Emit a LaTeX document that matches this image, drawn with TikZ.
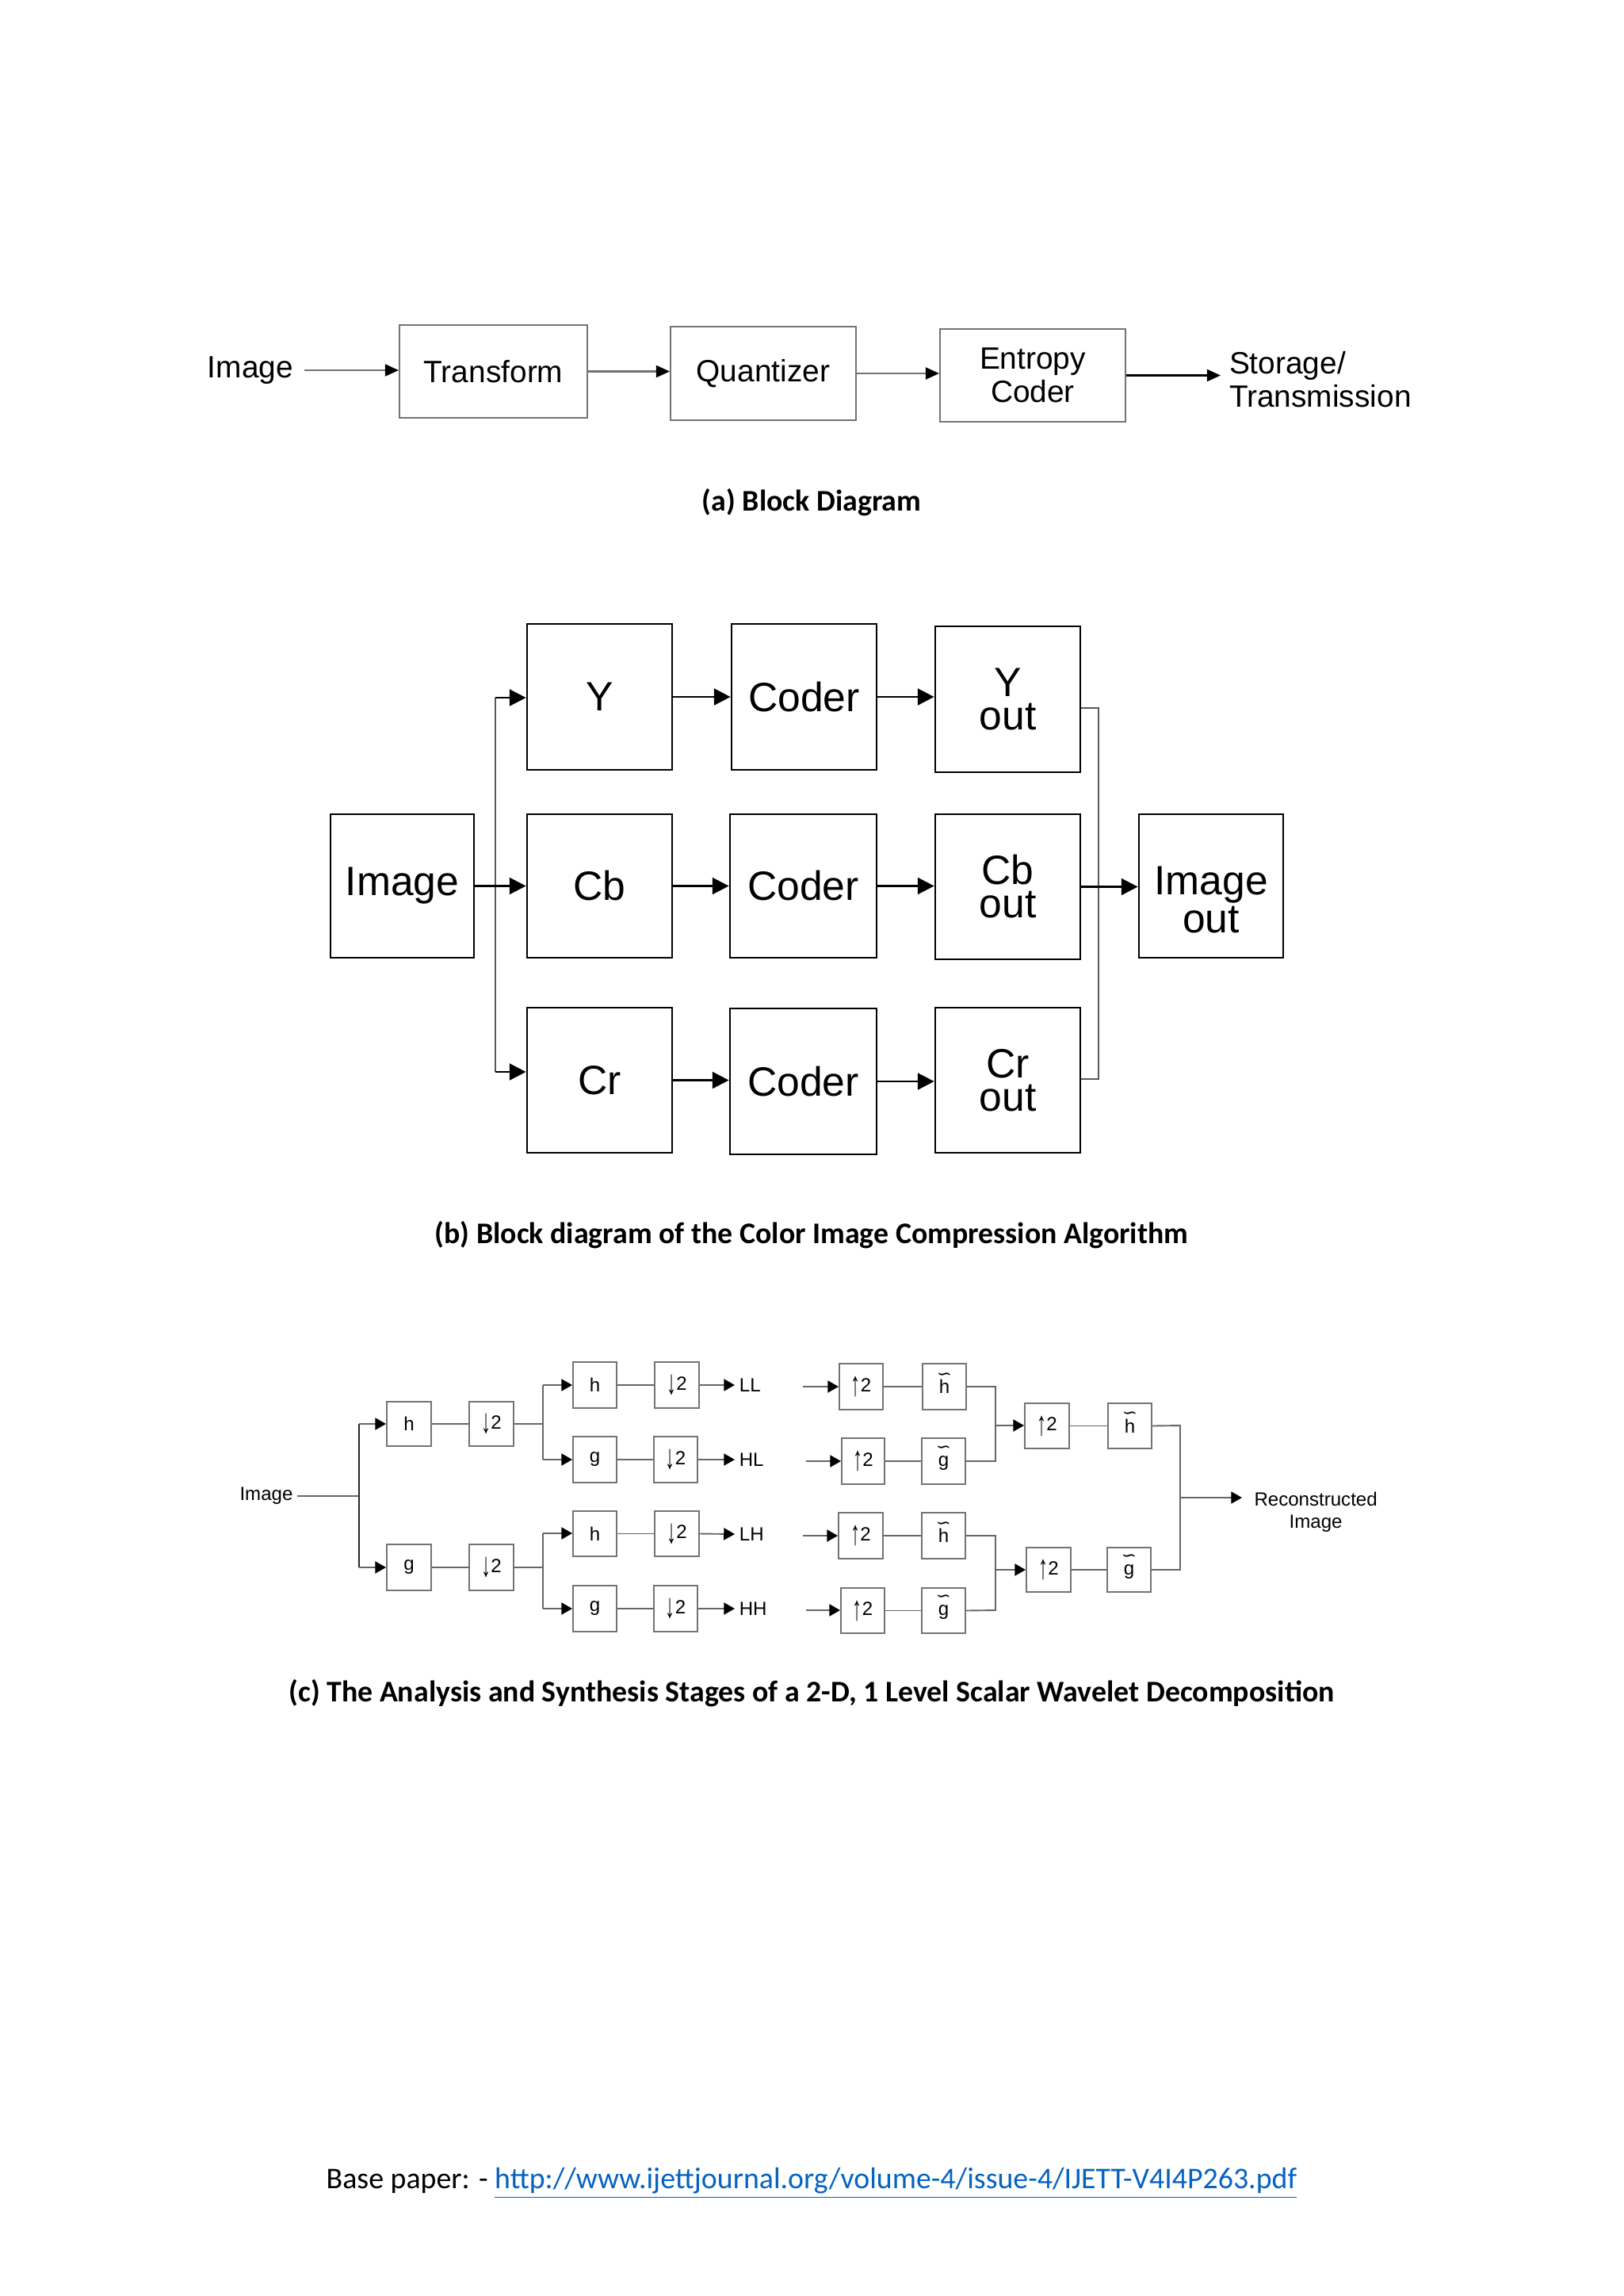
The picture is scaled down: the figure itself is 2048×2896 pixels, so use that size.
\documentclass[tikz,border=0pt]{standalone}
\usepackage{fontspec}
\setmainfont{Liberation Sans}
\newfontfamily\calfont{Carlito}
\newfontfamily\dvsfont{DejaVu Sans}
\usetikzlibrary{arrows.meta}
\definecolor{linkblue}{RGB}{5,99,193}
\newcommand{\wt}[1]{\ooalign{#1\cr\hidewidth\raisebox{0.72em}{\fontsize{6.5}{6.5}\selectfont\dvsfont ∽}\hidewidth\cr}}
\newcommand{\dn}{\raisebox{-0.22em}{\scalebox{1}[1.8]{↓}}}
\newcommand{\up}{\raisebox{-0.22em}{\scalebox{1}[1.8]{↑}}}
% box from corners: [style]{name}{x1}{y1}{x2}{y2}{text}
\newcommand{\bx}[7][]{\node[#1, minimum width={(#5-#3)*0.29067pt}, minimum height={(#6-#4)*0.29067pt}] (#2) at ({(#3+#5)/2},{(#4+#6)/2}) {#7};}
\begin{document}
\begin{tikzpicture}[x=0.29067pt,y={(0,-0.29067pt)},
  % section (a)
  txta/.style={inner sep=4pt, font=\fontsize{11.3}{12.2}\selectfont},
  boxa/.style={draw=black!55, line width=0.6pt, inner sep=0pt, align=center, font=\fontsize{11.3}{12.2}\selectfont},
  arra/.style={draw=black!55, line width=0.6pt, -{Triangle[length=5pt,width=4.4pt,color=black]}},
  % section (b)
  txtb/.style={inner sep=0pt, align=center, font=\fontsize{15}{12.2}\selectfont},
  boxb/.style={draw=black, line width=0.8pt, inner sep=0pt, align=center, font=\fontsize{15}{12.2}\selectfont},
  arrb/.style={draw=black, line width=0.8pt, -{Triangle[length=6pt,width=6pt]}},
  lnb/.style={draw=black!65, line width=0.7pt},
  % section (c)
  txtc/.style={inner sep=1.5pt, font=\fontsize{7}{8.2}\selectfont},
  boxc/.style={draw=black!55, line width=0.55pt, inner sep=0pt, align=center, font=\fontsize{7}{8}\selectfont},
  arrc/.style={draw=black!60, line width=0.55pt, -{Triangle[length=4pt,width=4.4pt,color=black]}},
  lnc/.style={draw=black!60, line width=0.55pt},
  capt/.style={inner sep=0pt, font=\fontsize{11}{13}\selectfont\calfont\bfseries},
]
\useasboundingbox[fill=white] (0,0) rectangle (2048,2896);

% ---------------- (a) ----------------
\node[txta] (imga) at (316,467) {Image};
\bx[boxa]{tr}{504}{410}{741}{527}{Transform}
\bx[boxa]{qu}{846}{412}{1080}{530}{Quantizer}
\bx[boxa]{en}{1186}{415}{1420}{532}{Entropy\\Coder}
\node[txta, anchor=west, align=left, inner sep=3pt] (st) at (1540,479) {Storage/\\Transmission};
\draw[arra] (imga.east) -- (imga.east -| tr.west);
\draw[arra] (tr.east) -- (tr.east -| qu.west);
\draw[arra] (qu.east) -- (qu.east -| en.west);
\draw[arra, draw=black] (en.east) -- (en.east -| st.west);
\node[capt] (capa) at (1024,634) {(a) Block Diagram};

% ---------------- (b) ----------------
\bx[boxb]{img}{417}{1027}{598}{1208}{Image}
\bx[boxb]{Y}{665}{787}{848}{971}{Y}
\bx[boxb]{c1}{923}{787}{1106}{971}{Coder}
\bx[boxb]{yo}{1180}{790}{1363}{974}{Y\\out}
\bx[boxb]{cb}{665}{1027}{848}{1208}{Cb}
\bx[boxb]{c2}{921}{1027}{1106}{1208}{Coder}
\bx[boxb]{cbo}{1180}{1027}{1363}{1210}{Cb\\out}
\bx[boxb]{cr}{665}{1271}{848}{1454}{Cr}
\bx[boxb]{c3}{921}{1272}{1106}{1456}{Coder}
\bx[boxb]{cro}{1180}{1271}{1363}{1454}{Cr\\out}
\bx[boxb]{io}{1437}{1027}{1619}{1208}{}
\node[txtb] (iot) at (1528,1135) {Image\\out};

\coordinate (spT) at (625,880);
\coordinate (spB) at (625,1352);
\draw[lnb] (spT) -- (spB);
\draw[arrb] (img.east) -- (img.east -| cb.west);
\draw[arrb] (spT) -- (spT -| Y.west);
\draw[arrb] (spB) -- (spB -| cr.west);
\draw[arrb] (Y.east) -- (Y.east -| c1.west);
\draw[arrb] (c1.east) -- (c1.east -| yo.west);
\draw[arrb] (cb.east) -- (cb.east -| c2.west);
\draw[arrb] (c2.east) -- (c2.east -| cbo.west);
\draw[arrb] (cr.east) -- (cr.east -| c3.west);
\draw[arrb] (c3.east) -- (c3.east -| cro.west);
\coordinate (mT) at (1386,893);
\coordinate (mB) at (1386,1361);
\draw[lnb] (yo.east |- mT) -- (mT) -- (mB) -- (cro.east |- mB);
\draw[arrb] (cbo.east) -- (cbo.east -| io.west);
\node[capt] (capb) at (1024,1558) {(b) Block diagram of the Color Image Compression Algorithm};

% ---------------- (c) analysis ----------------
\node[txtc] (imgc) at (336,1887) {Image};
\coordinate (s1) at (453,1887);
\coordinate (s1t) at (453,1796);
\coordinate (s1b) at (453,1977);
\bx[boxc]{h1}{488}{1768}{544}{1824}{h}
\bx[boxc]{d1}{592}{1768}{648}{1824}{\dn2}
\bx[boxc]{g1}{488}{1948}{544}{2006}{g}
\bx[boxc]{d2}{592}{1948}{648}{2006}{\dn2}
\draw[lnc] (imgc.east) -- (s1);
\draw[lnc, draw=black!85] (s1t) -- (s1b);
\draw[arrc] (s1t) -- (s1t -| h1.west);
\draw[arrc] (s1b) -- (s1b -| g1.west);
\draw[lnc] (h1.east) -- (d1.west);
\draw[lnc] (g1.east) -- (d2.west);

\bx[boxc]{hLL}{723}{1718}{778}{1776}{h}
\bx[boxc]{dLL}{826}{1718}{882}{1776}{\dn2}
\bx[boxc]{gHL}{723}{1812}{778}{1870}{g}
\bx[boxc]{dHL}{825}{1812}{880}{1870}{\dn2}
\bx[boxc]{hLH}{723}{1906}{778}{1963}{h}
\bx[boxc]{dLH}{826}{1906}{882}{1963}{\dn2}
\bx[boxc]{gHH}{723}{2000}{778}{2058}{g}
\bx[boxc]{dHH}{825}{2000}{880}{2058}{\dn2}
\node[txtc, anchor=west] (LL) at (927,1747) {LL};
\node[txtc, anchor=west] (HL) at (927,1841) {HL};
\node[txtc, anchor=west] (LH) at (927,1935) {LH};
\node[txtc, anchor=west] (HH) at (927,2029) {HH};

\coordinate (s2t) at (685,1747);
\coordinate (s2m) at (685,1796);
\coordinate (s2b) at (685,1841);
\coordinate (s3t) at (685,1934);
\coordinate (s3m) at (685,1977);
\coordinate (s3b) at (685,2029);
\draw[lnc] (d1.east) -- (s2m);
\draw[lnc] (s2t) -- (s2b);
\draw[arrc] (s2t) -- (s2t -| hLL.west);
\draw[arrc] (s2b) -- (s2b -| gHL.west);
\draw[lnc] (d2.east) -- (s3m);
\draw[lnc] (s3t) -- (s3b);
\draw[arrc] (s3t) -- (s3t -| hLH.west);
\draw[arrc] (s3b) -- (s3b -| gHH.west);
\draw[lnc] (hLL.east) -- (dLL.west);
\draw[lnc] (gHL.east) -- (dHL.west);
\draw[lnc] (hLH.east) -- (dLH.west);
\draw[lnc] (gHH.east) -- (dHH.west);
\draw[arrc] (dLL.east) -- (LL.west);
\draw[arrc] (dHL.east) -- (HL.west);
\draw[arrc] (dLH.east) -- (LH.west);
\draw[arrc] (dHH.east) -- (HH.west);

% ---------------- (c) synthesis ----------------
\bx[boxc]{u1}{1059}{1720}{1114}{1778}{\up2}
\bx[boxc]{ht1}{1164}{1720}{1219}{1778}{\wt{h}}
\bx[boxc]{u2}{1062}{1814}{1116}{1872}{\up2}
\bx[boxc]{gt2}{1163}{1814}{1218}{1872}{\wt{g}}
\bx[boxc]{u3}{1058}{1908}{1114}{1966}{\up2}
\bx[boxc]{ht3}{1163}{1908}{1218}{1966}{\wt{h}}
\bx[boxc]{u4}{1061}{2003}{1116}{2060}{\up2}
\bx[boxc]{gt4}{1163}{2003}{1218}{2060}{\wt{g}}
\bx[boxc]{um1}{1293}{1770}{1349}{1827}{\up2}
\bx[boxc]{htm}{1398}{1770}{1453}{1827}{\wt{h}}
\bx[boxc]{um2}{1295}{1952}{1351}{2008}{\up2}
\bx[boxc]{gtm}{1397}{1952}{1452}{2008}{\wt{g}}
\node[txtc, anchor=west, align=center, inner xsep=4.3pt] (rec) at (1567,1907) {Reconstructed\\Image};

\coordinate (in1) at (1013,1749);
\coordinate (in2) at (1017,1843);
\coordinate (in3) at (1013,1937);
\coordinate (in4) at (1017,2031);
\draw[arrc] (in1) -- (in1 -| u1.west);
\draw[arrc] (in2) -- (in2 -| u2.west);
\draw[arrc] (in3) -- (in3 -| u3.west);
\draw[arrc] (in4) -- (in4 -| u4.west);
\draw[lnc] (u1.east) -- (ht1.west);
\draw[lnc] (u2.east) -- (gt2.west);
\draw[lnc] (u3.east) -- (ht3.west);
\draw[lnc] (u4.east) -- (gt4.west);
\coordinate (m1t) at (1256,1749);
\coordinate (m1m) at (1256,1798);
\coordinate (m1b) at (1256,1843);
\coordinate (m2t) at (1256,1937);
\coordinate (m2m) at (1256,1980);
\coordinate (m2b) at (1256,2031);
\draw[lnc] (ht1.east) -- (m1t) -- (m1b) -- (gt2.east);
\draw[arrc] (m1m) -- (m1m -| um1.west);
\draw[lnc] (ht3.east) -- (m2t) -- (m2b) -- (gt4.east);
\draw[arrc] (m2m) -- (m2m -| um2.west);
\draw[lnc] (um1.east) -- (htm.west);
\draw[lnc] (um2.east) -- (gtm.west);
\coordinate (ft) at (1489,1798);
\coordinate (fm) at (1489,1889);
\coordinate (fb) at (1489,1980);
\draw[lnc] (htm.east) -- (ft) -- (fb) -- (gtm.east);
\draw[arrc] (fm) -- (fm -| rec.west);
\node[capt] (capc) at (1024,2136) {(c) The Analysis and Synthesis Stages of a 2-D, 1 Level Scalar Wavelet Decomposition};

% ---------------- footer ----------------
\node[inner sep=0pt, font=\fontsize{11}{13}\selectfont\calfont] (foot) at (1024,2754)
  {Base paper: - \textcolor{linkblue}{\underline{http://www.ijettjournal.org/volume-4/issue-4/IJETT-V4I4P263.pdf}}};
\end{tikzpicture}
\end{document}
